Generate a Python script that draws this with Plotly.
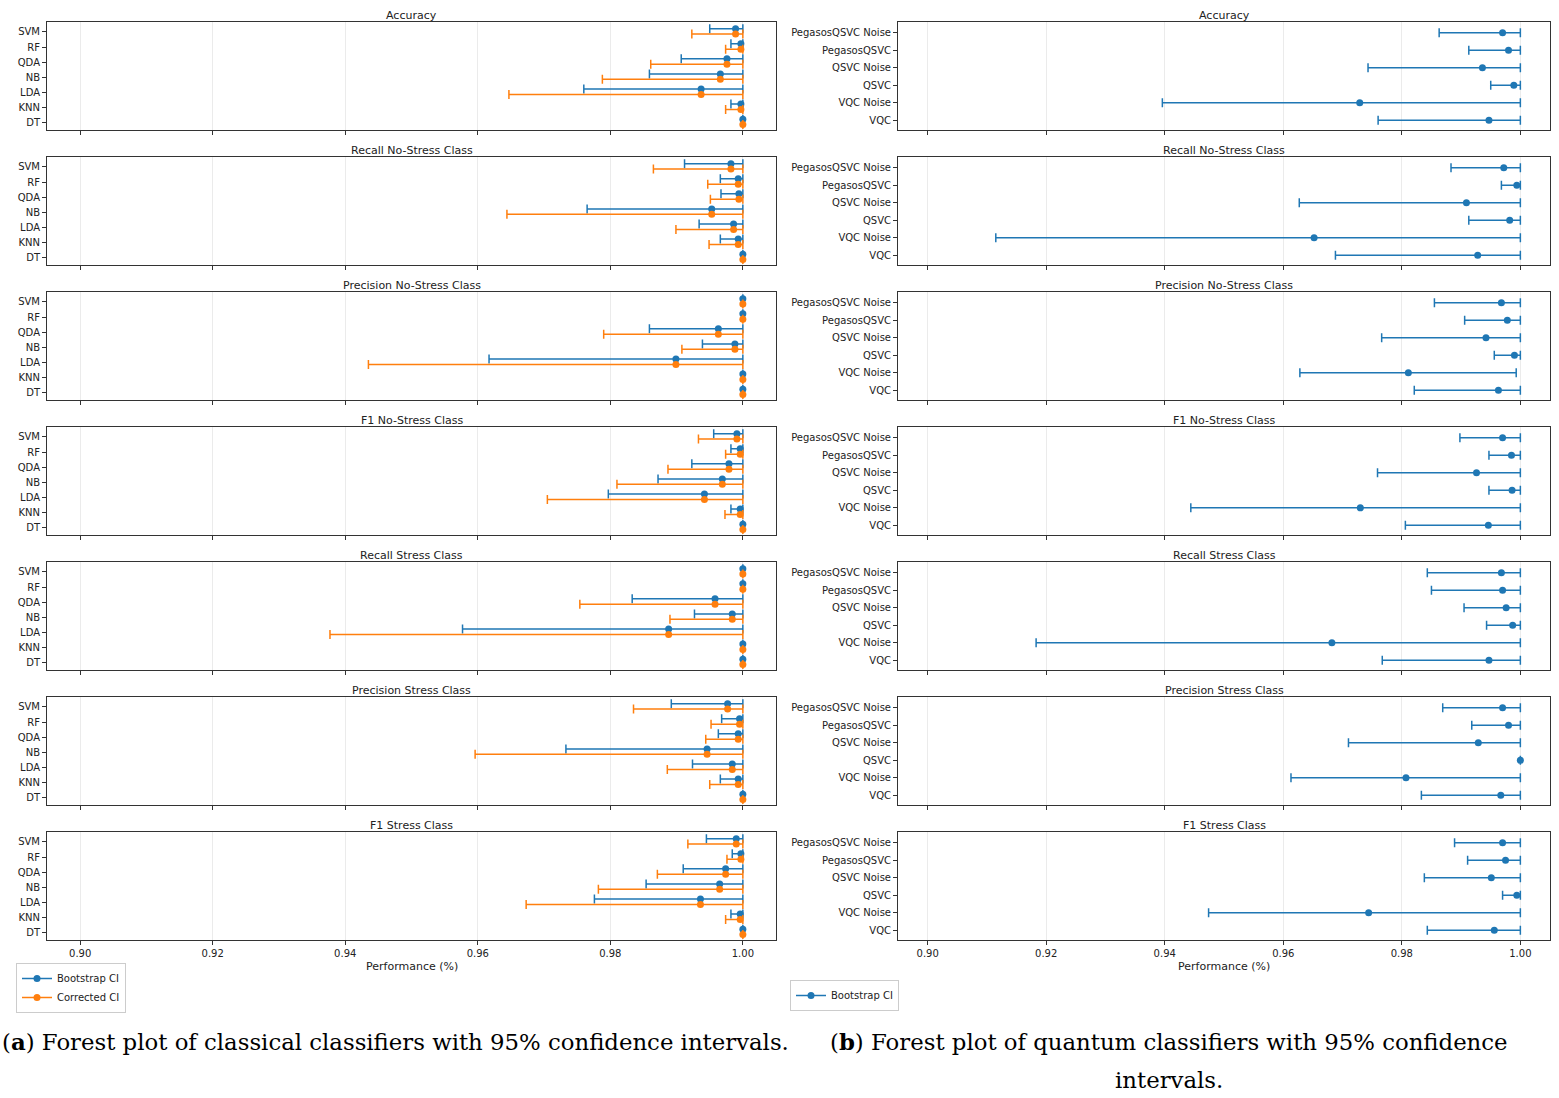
import plotly.graph_objects as go

W, H = 1559, 1098

metrics = ["Accuracy", "Recall No-Stress Class", "Precision No-Stress Class",
           "F1 No-Stress Class", "Recall Stress Class", "Precision Stress Class",
           "F1 Stress Class"]

classical_models = ["SVM", "RF", "QDA", "NB", "LDA", "KNN", "DT"]
quantum_models = ["PegasosQSVC Noise", "PegasosQSVC", "QSVC Noise", "QSVC", "VQC Noise", "VQC"]

x_ticks = [0.90, 0.92, 0.94, 0.96, 0.98, 1.00]
x_tick_labels = ["0.90", "0.92", "0.94", "0.96", "0.98", "1.00"]

# ---------------- classical classifiers (SVM, RF, QDA, NB, LDA, KNN, DT) ----------------
acc_mean = [0.9989, 0.9997, 0.9976, 0.9966, 0.9937, 0.9997, 1.0]
acc_boot_lo = [0.9950, 0.9982, 0.9907, 0.9859, 0.9760, 0.9982, 1.0]
acc_corr_lo = [0.9923, 0.9974, 0.9861, 0.9788, 0.9647, 0.9974, 1.0]

rns_mean = [0.9982, 0.9993, 0.9994, 0.9953, 0.9986, 0.9993, 1.0]
rns_boot_lo = [0.9912, 0.9966, 0.9967, 0.9765, 0.9934, 0.9966, 1.0]
rns_corr_lo = [0.9865, 0.9947, 0.9951, 0.9644, 0.9899, 0.9949, 1.0]

pns_mean = [1.0, 1.0, 0.9963, 0.9988, 0.9899, 1.0, 1.0]
pns_boot_lo = [1.0, 1.0, 0.9859, 0.9939, 0.9617, 1.0, 1.0]
pns_corr_lo = [1.0, 1.0, 0.9790, 0.9908, 0.9435, 1.0, 1.0]

fns_mean = [0.9991, 0.9996, 0.9979, 0.9969, 0.9942, 0.9996, 1.0]
fns_boot_lo = [0.9956, 0.9982, 0.9923, 0.9872, 0.9797, 0.9982, 1.0]
fns_corr_lo = [0.9933, 0.9974, 0.9887, 0.9810, 0.9705, 0.9973, 1.0]

rs_mean = [1.0, 1.0, 0.9958, 0.9984, 0.9888, 1.0, 1.0]
rs_boot_lo = [1.0, 1.0, 0.9833, 0.9927, 0.9577, 1.0, 1.0]
rs_corr_lo = [1.0, 1.0, 0.9754, 0.9890, 0.9377, 1.0, 1.0]

ps_mean = [0.9977, 0.9995, 0.9993, 0.9946, 0.9984, 0.9993, 1.0]
ps_boot_lo = [0.9892, 0.9968, 0.9963, 0.9733, 0.9924, 0.9966, 1.0]
ps_corr_lo = [0.9835, 0.9952, 0.9944, 0.9596, 0.9886, 0.9950, 1.0]

fs_mean = [0.9990, 0.9997, 0.9974, 0.9965, 0.9936, 0.9996, 1.0]
fs_boot_lo = [0.9945, 0.9984, 0.9910, 0.9854, 0.9776, 0.9982, 1.0]
fs_corr_lo = [0.9917, 0.9976, 0.9871, 0.9782, 0.9673, 0.9974, 1.0]

classical_hi = [1.0, 1.0, 1.0, 1.0, 1.0, 1.0, 1.0]

# ---------------- quantum classifiers ----------------
q_acc_mean = [0.9970, 0.9980, 0.9936, 0.9989, 0.9729, 0.9947]
q_acc_lo = [0.9863, 0.9913, 0.9743, 0.9950, 0.9396, 0.9760]
q_acc_hi = [1.0, 1.0, 1.0, 1.0, 1.0, 1.0]

q_rns_mean = [0.9972, 0.9994, 0.9909, 0.9982, 0.9652, 0.9928]
q_rns_lo = [0.9883, 0.9968, 0.9627, 0.9913, 0.9115, 0.9688]
q_rns_hi = [1.0, 1.0, 1.0, 1.0, 1.0, 1.0]

q_pns_mean = [0.9968, 0.9978, 0.9942, 0.9990, 0.9811, 0.9963]
q_pns_lo = [0.9855, 0.9906, 0.9766, 0.9956, 0.9628, 0.9821]
q_pns_hi = [1.0, 1.0, 1.0, 1.0, 0.9993, 1.0]

q_fns_mean = [0.9970, 0.9985, 0.9926, 0.9986, 0.9730, 0.9946]
q_fns_lo = [0.9898, 0.9947, 0.9759, 0.9947, 0.9444, 0.9806]
q_fns_hi = [1.0, 1.0, 1.0, 1.0, 1.0, 1.0]

q_rs_mean = [0.9968, 0.9970, 0.9976, 0.9987, 0.9682, 0.9947]
q_rs_lo = [0.9843, 0.9850, 0.9905, 0.9943, 0.9183, 0.9767]
q_rs_hi = [1.0, 1.0, 1.0, 1.0, 1.0, 1.0]

q_ps_mean = [0.9970, 0.9980, 0.9929, 1.0, 0.9807, 0.9967]
q_ps_lo = [0.9869, 0.9918, 0.9710, 1.0, 0.9613, 0.9833]
q_ps_hi = [1.0, 1.0, 1.0, 1.0, 1.0, 1.0]

q_fs_mean = [0.9970, 0.9975, 0.9951, 0.9994, 0.9744, 0.9956]
q_fs_lo = [0.9889, 0.9911, 0.9838, 0.9970, 0.9474, 0.9843]
q_fs_hi = [1.0, 1.0, 1.0, 1.0, 1.0, 1.0]

classical_sets = [
    (acc_mean, acc_boot_lo, acc_corr_lo),
    (rns_mean, rns_boot_lo, rns_corr_lo),
    (pns_mean, pns_boot_lo, pns_corr_lo),
    (fns_mean, fns_boot_lo, fns_corr_lo),
    (rs_mean, rs_boot_lo, rs_corr_lo),
    (ps_mean, ps_boot_lo, ps_corr_lo),
    (fs_mean, fs_boot_lo, fs_corr_lo),
]
quantum_sets = [
    (q_acc_mean, q_acc_lo, q_acc_hi),
    (q_rns_mean, q_rns_lo, q_rns_hi),
    (q_pns_mean, q_pns_lo, q_pns_hi),
    (q_fns_mean, q_fns_lo, q_fns_hi),
    (q_rs_mean, q_rs_lo, q_rs_hi),
    (q_ps_mean, q_ps_lo, q_ps_hi),
    (q_fs_mean, q_fs_lo, q_fs_hi),
]

BLUE = "#1f77b4"
ORANGE = "#ff7f0e"
TXT = "#222222"
FONT = "DejaVu Sans"

# layout geometry (pixels)
col_x = [(47, 776), (898, 1550)]
panel_top0, panel_pitch, panel_h = 22, 135, 108

fig = go.Figure()
layout = dict(width=W, height=H, margin=dict(l=0, r=0, t=0, b=0),
              paper_bgcolor="white", plot_bgcolor="white", showlegend=True,
              font=dict(family=FONT, size=10, color=TXT))
annotations = []


def err(mean, lo, hi):
    plus = [h - m for m, h in zip(mean, hi)]
    minus = [m - l for m, l in zip(mean, lo)]
    return dict(type="data", symmetric=False, array=plus, arrayminus=minus,
                thickness=1.5, width=4.5)


for r in range(7):
    top = panel_top0 + panel_pitch * r
    bot = top + panel_h
    ydom = [1 - bot / H, 1 - top / H]
    for c in range(2):
        k = r * 2 + c + 1
        xa = "xaxis" if k == 1 else f"xaxis{k}"
        ya = "yaxis" if k == 1 else f"yaxis{k}"
        xref = "x" if k == 1 else f"x{k}"
        yref = "y" if k == 1 else f"y{k}"
        x0, x1 = col_x[c]
        models = classical_models if c == 0 else quantum_models
        n = len(models)
        yrange = [6.5, -0.66] if c == 0 else [5.55, -0.62]
        layout[xa] = dict(domain=[x0 / W, x1 / W], anchor=yref, range=[0.895, 1.005],
                          tickvals=x_ticks, ticktext=x_tick_labels,
                          showticklabels=(r == 6), ticks="outside", ticklen=4,
                          tickcolor="#333", showgrid=True, gridcolor="#ebebeb",
                          gridwidth=1, showline=True, linecolor="#333", linewidth=1,
                          mirror=True, zeroline=False,
                          tickfont=dict(size=10, color=TXT))
        layout[ya] = dict(domain=ydom, anchor=xref, range=yrange,
                          tickvals=list(range(n)), ticktext=models,
                          ticks="outside", ticklen=4, tickcolor="#333",
                          showgrid=False, showline=True, linecolor="#333",
                          linewidth=1, mirror=True, zeroline=False,
                          tickfont=dict(size=10, color=TXT))
        annotations.append(dict(text=metrics[r], x=(x0 + x1) / 2 / W,
                                y=1 - (top + 2) / H, xref="paper", yref="paper",
                                xanchor="center", yanchor="bottom", showarrow=False,
                                font=dict(family=FONT, size=11, color=TXT)))
        if c == 0:
            mean, blo, clo = classical_sets[r]
            ypos_b = [i - 0.22 for i in range(n)]
            ypos_c = [i + 0.14 for i in range(n)]
            fig.add_trace(go.Scatter(x=mean, y=ypos_b, mode="markers", xaxis=xref, yaxis=yref,
                                     marker=dict(color=BLUE, size=7),
                                     error_x=dict(color=BLUE, **err(mean, blo, classical_hi)),
                                     showlegend=False, name="Bootstrap CI"))
            fig.add_trace(go.Scatter(x=mean, y=ypos_c, mode="markers", xaxis=xref, yaxis=yref,
                                     marker=dict(color=ORANGE, size=7),
                                     error_x=dict(color=ORANGE, **err(mean, clo, classical_hi)),
                                     showlegend=False, name="Corrected CI"))
        else:
            mean, lo, hi = quantum_sets[r]
            fig.add_trace(go.Scatter(x=mean, y=list(range(n)), mode="markers",
                                     xaxis=xref, yaxis=yref,
                                     marker=dict(color=BLUE, size=7),
                                     error_x=dict(color=BLUE, **err(mean, lo, hi)),
                                     showlegend=False, name="Bootstrap CI"))

# legend entries
fig.add_trace(go.Scatter(x=[None], y=[None], mode="lines+markers", name="Bootstrap CI",
                         line=dict(color=BLUE, width=1.5), marker=dict(color=BLUE, size=7),
                         legend="legend", xaxis="x13", yaxis="y13"))
fig.add_trace(go.Scatter(x=[None], y=[None], mode="lines+markers", name="Corrected CI",
                         line=dict(color=ORANGE, width=1.5), marker=dict(color=ORANGE, size=7),
                         legend="legend", xaxis="x13", yaxis="y13"))
fig.add_trace(go.Scatter(x=[None], y=[None], mode="lines+markers", name="Bootstrap CI",
                         line=dict(color=BLUE, width=1.5), marker=dict(color=BLUE, size=7),
                         legend="legend2", xaxis="x14", yaxis="y14"))

layout["legend"] = dict(x=16 / W, y=1 - 963 / H, xanchor="left", yanchor="top",
                        bordercolor="#cccccc", borderwidth=1, bgcolor="white",
                        font=dict(size=10, color=TXT), tracegroupgap=0)
layout["legend2"] = dict(x=790 / W, y=1 - 980 / H, xanchor="left", yanchor="top",
                         bordercolor="#cccccc", borderwidth=1, bgcolor="white",
                         font=dict(size=10, color=TXT))

# x-axis titles
for c in range(2):
    x0, x1 = col_x[c]
    annotations.append(dict(text="Performance (%)", x=(x0 + x1) / 2 / W, y=1 - 966 / H,
                            xref="paper", yref="paper", xanchor="center", yanchor="middle",
                            showarrow=False, font=dict(family=FONT, size=11, color=TXT)))

# captions
CAP = "DejaVu Serif"
CAP_SIZE = 22.8
annotations.append(dict(text="(<b>a</b>) Forest plot of classical classifiers with 95% confidence intervals.",
                        x=395 / W, y=1 - 1042 / H, xref="paper", yref="paper",
                        xanchor="center", yanchor="middle", showarrow=False,
                        font=dict(family=CAP, size=CAP_SIZE, color="black")))
annotations.append(dict(text="(<b>b</b>) Forest plot of quantum classifiers with 95% confidence",
                        x=1169 / W, y=1 - 1042 / H, xref="paper", yref="paper",
                        xanchor="center", yanchor="middle", showarrow=False,
                        font=dict(family=CAP, size=CAP_SIZE, color="black")))
annotations.append(dict(text="intervals.",
                        x=1169 / W, y=1 - 1080 / H, xref="paper", yref="paper",
                        xanchor="center", yanchor="middle", showarrow=False,
                        font=dict(family=CAP, size=CAP_SIZE, color="black")))

layout["annotations"] = annotations
fig.update_layout(**layout)
fig.write_html("out.html",
               config={"displayModeBar": False},
               post_script="document.body.style.margin='0px';"
                           "document.body.style.overflow='hidden';"
                           "document.documentElement.style.overflow='hidden';")
